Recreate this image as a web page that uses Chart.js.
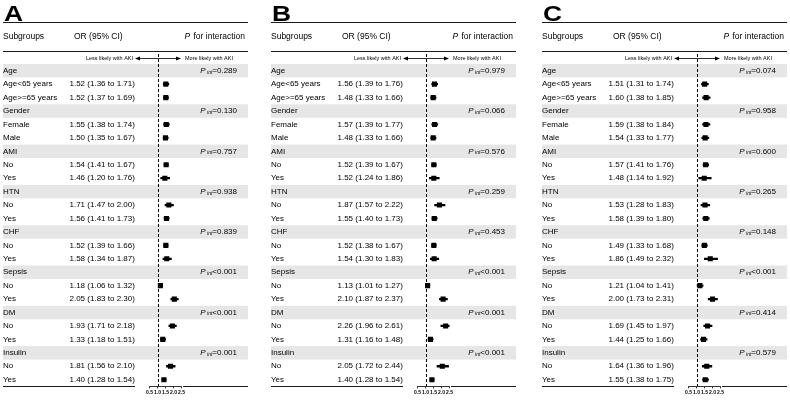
<!DOCTYPE html>
<html>
<head>
<meta charset="utf-8">
<script src="https://cdn.jsdelivr.net/npm/chart.js@4.4.1/dist/chart.umd.min.js"></script>
<style>
  body { margin: 0; background: #fff; }
  .panel { position: absolute; top: 0; width: 250px; height: 400px; }
</style>
</head>
<body>
<div class="panel" style="left:0px"><canvas id="chartA" width="250" height="400"></canvas></div>
<div class="panel" style="left:268px"><canvas id="chartB" width="250" height="400"></canvas></div>
<div class="panel" style="left:539px"><canvas id="chartC" width="250" height="400"></canvas></div>
<script>
// Rows of the forest plot
const groups = ['Age', 'Gender', 'AMI', 'HTN', 'CHF', 'Sepsis', 'DM', 'Insulin'];
const subgroupNames = ['Age<65 years', 'Age>=65 years', 'Female', 'Male', 'No', 'Yes', 'No', 'Yes',
                       'No', 'Yes', 'No', 'Yes', 'No', 'Yes', 'No', 'Yes'];
const xTicks = [0.5, 1.0, 1.5, 2.0, 2.5];

// Panel A
const orA   = [1.52, 1.52, 1.55, 1.50, 1.54, 1.46, 1.71, 1.56, 1.52, 1.58, 1.18, 2.05, 1.93, 1.33, 1.81, 1.40];
const lowA  = [1.36, 1.37, 1.38, 1.35, 1.41, 1.20, 1.47, 1.41, 1.39, 1.34, 1.06, 1.83, 1.71, 1.18, 1.56, 1.28];
const highA = [1.71, 1.69, 1.74, 1.67, 1.67, 1.76, 2.00, 1.73, 1.66, 1.87, 1.32, 2.30, 2.18, 1.51, 2.10, 1.54];
const pA    = ['=0.289', '=0.130', '=0.757', '=0.938', '=0.839', '<0.001', '<0.001', '=0.001'];

// Panel B
const orB   = [1.56, 1.48, 1.57, 1.48, 1.52, 1.52, 1.87, 1.55, 1.52, 1.54, 1.13, 2.10, 2.26, 1.31, 2.05, 1.40];
const lowB  = [1.39, 1.33, 1.39, 1.33, 1.39, 1.24, 1.57, 1.40, 1.38, 1.30, 1.01, 1.87, 1.96, 1.16, 1.72, 1.28];
const highB = [1.76, 1.66, 1.77, 1.66, 1.67, 1.86, 2.22, 1.73, 1.67, 1.83, 1.27, 2.37, 2.61, 1.48, 2.44, 1.54];
const pB    = ['=0.979', '=0.066', '=0.576', '=0.259', '=0.453', '<0.001', '<0.001', '<0.001'];

// Panel C
const orC   = [1.51, 1.60, 1.59, 1.54, 1.57, 1.48, 1.53, 1.58, 1.49, 1.86, 1.21, 2.00, 1.69, 1.44, 1.64, 1.55];
const lowC  = [1.31, 1.38, 1.38, 1.33, 1.41, 1.14, 1.28, 1.39, 1.33, 1.49, 1.04, 1.73, 1.45, 1.25, 1.36, 1.38];
const highC = [1.74, 1.85, 1.84, 1.77, 1.76, 1.92, 1.83, 1.80, 1.68, 2.32, 1.41, 2.31, 1.97, 1.66, 1.96, 1.75];
const pC    = ['=0.074', '=0.958', '=0.600', '=0.265', '=0.148', '<0.001', '=0.414', '=0.579'];

const FONT = '"Liberation Sans", Arial, sans-serif';

function buildRows(or, low, high, p) {
    const rows = [];
    groups.forEach((g, gi) => {
        rows.push({ label: g, header: true, p: p[gi] });
        for (let k = 0; k < 2; k++) {
            const j = gi * 2 + k;
            rows.push({ label: subgroupNames[j], header: false, or: or[j], lo: low[j], hi: high[j] });
        }
    });
    return rows;
}

function hline(ctx, x1, x2, y) {
    ctx.beginPath();
    ctx.moveTo(x1, y);
    ctx.lineTo(x2, y);
    ctx.stroke();
}

// table text, bands, reference line
const forestTable = {
    id: 'forestTable',
    beforeDraw(chart, args, o) {
        const ctx = chart.ctx;
        const ys = chart.scales.y;
        const h = ys.getPixelForValue(1) - ys.getPixelForValue(0);
        ctx.save();
        ctx.fillStyle = '#e6e6e6';
        o.rows.forEach((r, i) => {
            if (r.header) {
                const py = ys.getPixelForValue(i);
                ctx.fillRect(3, py - h / 2, 245, h);
            }
        });
        ctx.restore();
    },
    beforeDatasetsDraw(chart) {
        const ctx = chart.ctx;
        const x1 = Math.round(chart.scales.x.getPixelForValue(1)) + 0.5;
        ctx.save();
        ctx.strokeStyle = '#000';
        ctx.lineWidth = 1;
        ctx.setLineDash([3, 2]);
        ctx.beginPath();
        ctx.moveTo(x1, 54);
        ctx.lineTo(x1, chart.chartArea.bottom);
        ctx.stroke();
        ctx.restore();
    },
    afterDraw(chart, args, o) {
        const ctx = chart.ctx;
        const ys = chart.scales.y;
        ctx.save();
        ctx.fillStyle = '#000';

        // panel letter, a little wider than plain bold
        ctx.save();
        ctx.font = 'bold 22px ' + FONT;
        ctx.textBaseline = 'alphabetic';
        ctx.textAlign = 'left';
        ctx.translate(4, 20.5);
        ctx.scale(1.2, 1);
        ctx.fillText(o.letter, 0, 0);
        ctx.restore();

        // rules
        ctx.strokeStyle = '#1a1a1a';
        ctx.lineWidth = 1;
        hline(ctx, 3, 248, 22.5);
        hline(ctx, 3, 248, 51.5);
        const yb = Math.round(chart.chartArea.bottom) + 0.5;
        hline(ctx, 3, 135, yb);
        hline(ctx, 183, 248, yb);

        // header row
        ctx.textBaseline = 'middle';
        ctx.font = '8.5px ' + FONT;
        ctx.fillText('Subgroups', 3, 37);
        ctx.fillText('OR (95% CI)', 74, 37);
        const rest = ' for interaction';
        const wRest = ctx.measureText(rest).width;
        ctx.fillText(rest, 245 - wRest, 37);
        ctx.font = 'italic 8.5px ' + FONT;
        const wP = ctx.measureText('P').width;
        ctx.fillText('P', 245 - wRest - wP - 1, 37);

        // direction arrow
        const ay = 58.5;
        ctx.font = '5.5px ' + FONT;
        ctx.textAlign = 'right';
        ctx.fillText('Less likely with AKI', 133, ay);
        ctx.textAlign = 'left';
        ctx.fillText('More likely with AKI', 185, ay);
        ctx.lineWidth = 0.9;
        hline(ctx, 138, 178, ay);
        ctx.beginPath();
        ctx.moveTo(135, ay); ctx.lineTo(140, ay - 2); ctx.lineTo(140, ay + 2); ctx.closePath();
        ctx.moveTo(181, ay); ctx.lineTo(176, ay - 2); ctx.lineTo(176, ay + 2); ctx.closePath();
        ctx.fill();

        // rows
        o.rows.forEach((r, i) => {
            const py = ys.getPixelForValue(i);
            ctx.textAlign = 'left';
            ctx.font = '8px ' + FONT;
            ctx.fillText(r.label, 3, py);
            if (!r.header) {
                ctx.fillText(r.or.toFixed(2) + ' (' + r.lo.toFixed(2) + ' to ' + r.hi.toFixed(2) + ')', 69.5, py);
            } else {
                const wVal = ctx.measureText(r.p).width;
                ctx.font = 'italic 5px ' + FONT;
                const wInt = ctx.measureText('int').width;
                ctx.font = 'italic 8px ' + FONT;
                const wPP = ctx.measureText('P').width;
                let x0 = 237 - wVal - wInt - wPP - 1.5;
                ctx.fillText('P', x0, py);
                ctx.font = 'italic 5px ' + FONT;
                ctx.fillText('int', x0 + wPP + 1.5, py + 1.5);
                ctx.font = '8px ' + FONT;
                ctx.fillText(r.p, 237 - wVal, py);
            }
        });
        ctx.restore();
    }
};

function makeForest(id, letter, or, low, high, p) {
    const rows = buildRows(or, low, high, p);
    return new Chart(document.getElementById(id), {
        type: 'bar',
        data: {
            labels: rows.map((r, i) => 'row' + i),
            datasets: [
                {
                    type: 'bar',
                    indexAxis: 'y',
                    data: rows.map(r => r.header ? null : [r.lo, r.hi]),
                    backgroundColor: '#000',
                    borderWidth: 0,
                    barThickness: 1.6,
                    order: 2
                },
                {
                    type: 'line',
                    indexAxis: 'y',
                    data: rows.map(r => r.header ? null : r.or),
                    showLine: false,
                    pointStyle: 'rect',
                    pointRadius: 3.6,
                    pointBackgroundColor: '#000',
                    pointBorderWidth: 0,
                    order: 1
                }
            ]
        },
        options: {
            indexAxis: 'y',
            responsive: false,
            animation: false,
            events: [],
            layout: { padding: { left: 149.5, right: 68.5, top: 64, bottom: 0 } },
            scales: {
                x: {
                    type: 'linear',
                    position: 'bottom',
                    min: 0.5,
                    max: 2.5,
                    afterBuildTicks: s => { s.ticks = xTicks.map(v => ({ value: v })); },
                    afterFit: s => { s.height = 13.6; },
                    grid: { drawOnChartArea: false, drawTicks: true, tickLength: 2, color: '#000', lineWidth: 0.8 },
                    border: { display: true, color: '#000', width: 0.8 },
                    ticks: {
                        font: { size: 5, family: FONT, weight: 'bold' },
                        color: '#000',
                        padding: 1,
                        autoSkip: false,
                        maxRotation: 0,
                        callback: v => Number(v).toFixed(1)
                    }
                },
                y: {
                    type: 'category',
                    display: false,
                    offset: true
                }
            },
            plugins: {
                legend: { display: false },
                tooltip: { enabled: false },
                forestTable: { rows: rows, letter: letter }
            }
        },
        plugins: [forestTable]
    });
}

makeForest('chartA', 'A', orA, lowA, highA, pA);
makeForest('chartB', 'B', orB, lowB, highB, pB);
makeForest('chartC', 'C', orC, lowC, highC, pC);
</script>
</body>
</html>
